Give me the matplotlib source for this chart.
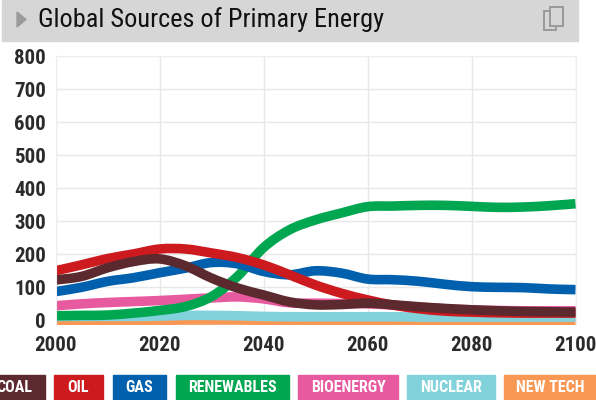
import numpy as np
import matplotlib
matplotlib.use("Agg")
import matplotlib.pyplot as plt
from matplotlib.patches import Rectangle, Polygon, PathPatch
from matplotlib.path import Path

years = [2000, 2005, 2010, 2015, 2020, 2025, 2030, 2035, 2040, 2045, 2050,
         2055, 2060, 2065, 2070, 2075, 2080, 2085, 2090, 2095, 2100]
coal = [122, 133, 159, 178, 186, 165, 128, 98, 77, 56, 47, 48, 52, 47, 41, 36, 32, 29, 27, 26, 25]
oil = [150, 168, 187, 201, 216, 216, 204, 190, 168, 138, 107, 82, 62, 46, 35, 28, 25, 23, 22, 22, 22]
gas = [87, 100, 118, 129, 144, 158, 175, 171, 148, 138, 150, 143, 125, 123, 118, 109, 102, 100, 99, 95, 93]
renewables = [14, 15, 16, 22, 30, 42, 72, 133, 220, 274, 304, 325, 344, 346, 348, 348, 345, 342, 343, 347, 353]
bioenergy = [44, 50, 54, 57, 60, 64, 68, 71, 65, 53, 52, 51, 50, 46, 40, 35, 32, 30, 29, 29, 29]
nuclear = [12, 12, 12, 12, 13, 15, 15, 14, 12, 11, 11, 11, 11, 11, 10, 10, 10, 10, 10, 10, 10]
new_tech = [0, 0, 0, 0, 0, 1, 1, 1, 0, 0, 0, 0, 0, 0, 0, 0, 0, 0, 0, 0, 0]

yticks = [0, 100, 200, 300, 400, 500, 600, 700, 800]
xticks = [2000, 2020, 2040, 2060, 2080, 2100]
legend_names = ["COAL", "OIL", "GAS", "RENEWABLES", "BIOENERGY", "NUCLEAR", "NEW TECH"]

colors = {
    "COAL": "#5c2a2e", "OIL": "#cc1a1f", "GAS": "#0060ae", "RENEWABLES": "#00a650",
    "BIOENERGY": "#e75aa0", "NUCLEAR": "#82d2dc", "NEW TECH": "#f99855",
}


def smooth_path(x, y):
    """Bezier through the points, so the lines bend like the original's."""
    pts = np.column_stack([x, y]).astype(float)
    tang = np.gradient(pts, axis=0) / 3
    verts = [pts[0]]
    codes = [Path.MOVETO]
    for i in range(len(pts) - 1):
        verts += [pts[i] + tang[i], pts[i + 1] - tang[i + 1], pts[i + 1]]
        codes += [Path.CURVE4] * 3
    return Path(verts, codes)


W, H = 596, 400
COND = ["Roboto Condensed", "Roboto"]
fig = plt.figure(figsize=(W / 100, H / 100), dpi=100)
ax = fig.add_axes([55.5 / W, 1 - 325 / H, (575.5 - 55.5) / W, (325 - 56) / H])
ax.set_xlim(2000, 2100)
ax.set_ylim(-14, 800)

ax.set_xticks(xticks)
ax.set_yticks(yticks)
ax.grid(color="#e8e8e8", linewidth=1)
ax.set_axisbelow(True)
ax.tick_params(axis="x", length=0, pad=8)
ax.tick_params(axis="y", length=0, pad=7)
for s in ["top", "right", "left"]:
    ax.spines[s].set_color("#eeeeee")
ax.spines["bottom"].set_visible(False)
for lab in ax.get_xticklabels() + ax.get_yticklabels():
    lab.set_family(COND)
    lab.set_weight("bold")
    lab.set_fontsize(15)
    lab.set_color("#2b2b2b")

series = [("NEW TECH", new_tech), ("NUCLEAR", nuclear), ("BIOENERGY", bioenergy),
          ("RENEWABLES", renewables), ("GAS", gas), ("OIL", oil), ("COAL", coal)]
for name, vals in series:
    ax.add_patch(PathPatch(smooth_path(years, vals), fill=False, ec=colors[name],
                           lw=6.9, capstyle="butt", joinstyle="round"))

# header band and legend boxes, these are in pixels so use a full figure overlay
ov = fig.add_axes([0, 0, 1, 1])
ov.set_xlim(0, W)
ov.set_ylim(H, 0)
ov.axis("off")
ov.patch.set_alpha(0)
ov.add_patch(Rectangle((2, 0), 576, 41, color="#d6d6d6"))
ov.add_patch(Polygon([(17, 12), (17, 27), (26, 19.5)], color="#9a9a9a"))
ov.add_patch(Rectangle((544, 11), 12, 19, fill=False, ec="#9a9a9a", lw=1.4))
ov.add_patch(Rectangle((550, 7), 13, 19, fc="#d6d6d6", ec="#9a9a9a", lw=1.4))
ov.text(38, 20, "Global Sources of Primary Energy", family=COND, fontsize=18.9,
        color="#111111", va="center", ha="left")

boxes = [(-5, 44.5), (53.5, 103), (112.5, 166), (176, 289), (298, 398), (407, 495), (504, 596)]
for name, (x0, x1) in zip(legend_names, boxes):
    ov.add_patch(Rectangle((x0, 375), x1 - x0, 25, color=colors[name]))
    cx = (x0 + x1) / 2 if name != "COAL" else 14
    ov.text(cx, 388, name, family=COND, fontsize=11.5, weight="bold",
            color="white", va="center", ha="center")

fig.savefig("out.png", dpi=100)
